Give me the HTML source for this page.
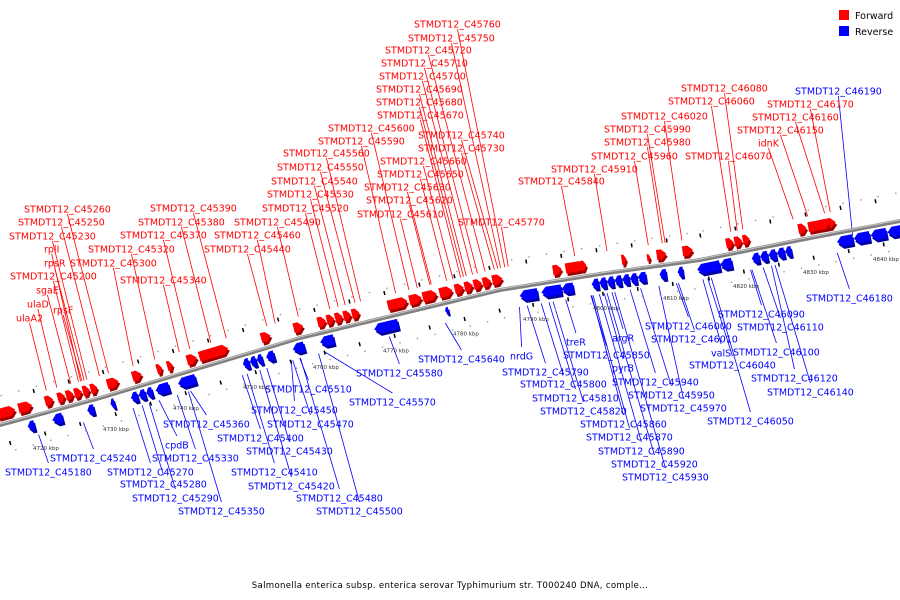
<!DOCTYPE html>
<html><head><meta charset="utf-8"><style>
html,body{margin:0;padding:0;background:#fff;width:900px;height:600px;overflow:hidden}
svg{display:block;font-family:"DejaVu Sans","Liberation Sans",sans-serif}
</style></head><body>
<svg id="chart" width="900" height="600" viewBox="0 0 900 600">
<g id="leaders"></g>
<g id="ticks"></g>
<path id="backbone" fill="none" stroke="#808080" stroke-width="4"/>
<path id="backbone2" fill="none" stroke="#c8c8c8" stroke-width="1"/>
<g id="genes"></g>
<g id="labels"></g>
<g>
<rect x="839" y="10" width="10" height="10" fill="#ff0000"/>
<text x="855" y="19" font-size="9.5" fill="#000">Forward</text>
<rect x="839" y="26" width="10" height="10" fill="#0000ff"/>
<text x="855" y="35" font-size="9.5" fill="#000">Reverse</text>
</g>
<text x="450" y="588" text-anchor="middle" font-size="8.6" letter-spacing="0.3" fill="#000">Salmonella enterica subsp. enterica serovar Typhimurium str. T000240 DNA, comple...</text>
</svg>
<script>
// gene data (kbp)
const fwdStart=[4714.3,4717.3,4721.1,4722.9,4724.1,4725.3,4726.5,4727.6,4730.0,4733.6,4737.1,4738.6,4741.4,4743.1,4752.0,4756.6,4760.0,4761.3,4762.5,4763.7,4764.9,4770.0,4773.1,4775.0,4777.4,4779.6,4781.0,4782.3,4783.6,4784.9,4793.5,4795.3,4797.5,4803.3,4806.9,4808.3,4812.0,4818.3,4819.5,4820.7,4828.6,4830.0,4832.0];
const fwdEnd  =[4716.9,4719.3,4722.3,4724.0,4725.2,4726.4,4727.5,4728.6,4731.7,4735.0,4737.9,4739.4,4742.9,4747.4,4753.4,4758.0,4761.2,4762.4,4763.6,4764.8,4766.0,4772.9,4774.9,4777.1,4779.3,4780.9,4782.2,4783.5,4784.8,4786.4,4794.8,4798.1,4798.3,4804.0,4807.4,4809.7,4813.5,4819.4,4820.6,4821.7,4829.8,4834.0,4833.0];
const revStart=[4717.9,4721.4,4726.4,4729.7,4732.6,4733.7,4734.8,4736.1,4739.3,4748.6,4749.6,4750.6,4751.9,4755.7,4759.7,4767.4,4777.6,4788.3,4791.4,4794.3,4798.6,4799.7,4800.8,4801.9,4803.0,4804.1,4805.2,4808.3,4810.9,4813.6,4816.9,4821.4,4822.6,4823.8,4825.0,4826.2,4833.6,4836.0,4838.4,4840.8];
const revEnd  =[4718.9,4722.9,4727.4,4730.3,4733.6,4734.7,4735.7,4738.1,4741.9,4749.5,4750.5,4751.4,4753.1,4757.4,4761.7,4770.9,4778.1,4790.9,4794.3,4796.0,4799.6,4800.7,4801.8,4802.9,4804.0,4805.1,4806.4,4809.3,4811.7,4816.9,4818.6,4822.5,4823.7,4824.9,4826.1,4827.1,4835.9,4838.3,4840.7,4843.5];
const tickKbp=[4720,4730,4740,4750,4760,4770,4780,4790,4800,4810,4820,4830,4840];
const tickLabels=["4720 kbp","4730 kbp","4740 kbp","4750 kbp","4760 kbp","4770 kbp","4780 kbp","4790 kbp","4800 kbp","4810 kbp","4820 kbp","4830 kbp","4840 kbp"];
// labels: name, strand, target gene kbp
const labNames=["STMDT12_C45260","STMDT12_C45250","STMDT12_C45230","rplI","rpsR","STMDT12_C45200","sgaE","ulaD","rpsF","ulaA2","STMDT12_C45320","STMDT12_C45300","STMDT12_C45340","STMDT12_C45390","STMDT12_C45380","STMDT12_C45370","STMDT12_C45460","STMDT12_C45440","STMDT12_C45490","STMDT12_C45520","STMDT12_C45530","STMDT12_C45540","STMDT12_C45550","STMDT12_C45560","STMDT12_C45590","STMDT12_C45600","STMDT12_C45670","STMDT12_C45680","STMDT12_C45690","STMDT12_C45700","STMDT12_C45710","STMDT12_C45720","STMDT12_C45750","STMDT12_C45760","STMDT12_C45740","STMDT12_C45730","STMDT12_C45660","STMDT12_C45650","STMDT12_C45630","STMDT12_C45620","STMDT12_C45610","STMDT12_C45770","STMDT12_C45840","STMDT12_C45910","STMDT12_C45960","STMDT12_C45980","STMDT12_C45990","STMDT12_C46020","STMDT12_C46060","STMDT12_C46080","STMDT12_C46070","idnK","STMDT12_C46150","STMDT12_C46160","STMDT12_C46170","STMDT12_C46190",
"STMDT12_C45180","STMDT12_C45240","cpdB","STMDT12_C45270","STMDT12_C45280","STMDT12_C45290","STMDT12_C45350","STMDT12_C45330","STMDT12_C45360","STMDT12_C45400","STMDT12_C45410","STMDT12_C45420","STMDT12_C45430","STMDT12_C45450","STMDT12_C45470","STMDT12_C45480","STMDT12_C45500","STMDT12_C45510","STMDT12_C45570","STMDT12_C45580","STMDT12_C45640","nrdG","treR","argR","STMDT12_C45790","STMDT12_C45850","STMDT12_C45800","STMDT12_C45810","STMDT12_C45820","STMDT12_C45860","STMDT12_C45870","STMDT12_C45890","STMDT12_C45920","STMDT12_C45930","pyrB","STMDT12_C45940","STMDT12_C45950","STMDT12_C45970","STMDT12_C46000","STMDT12_C46010","valS","STMDT12_C46040","STMDT12_C46050","STMDT12_C46090","STMDT12_C46110","STMDT12_C46100","STMDT12_C46120","STMDT12_C46140","STMDT12_C46180"];
const labStrand=[1,1,1,1,1,1,1,1,1,1,1,1,1,1,1,1,1,1,1,1,1,1,1,1,1,1,1,1,1,1,1,1,1,1,1,1,1,1,1,1,1,1,1,1,1,1,1,1,1,1,1,1,1,1,1,-1,
-1,-1,-1,-1,-1,-1,-1,-1,-1,-1,-1,-1,-1,-1,-1,-1,-1,-1,-1,-1,-1,-1,-1,-1,-1,-1,-1,-1,-1,-1,-1,-1,-1,-1,-1,-1,-1,-1,-1,-1,-1,-1,-1,-1,-1,-1,-1,-1,-1,-1];
const labKbp=[4729.8,4728.5,4726.7,4725.8,4726.3,4725.5,4724.4,4722.4,4726.0,4720.9,4736.4,4733.3,4739.9,4746.6,4744.4,4741.4,4753.6,4752.4,4756.9,4761.4,4762.6,4763.6,4765.0,4765.8,4770.8,4772.7,4780.1,4780.5,4780.9,4781.8,4782.5,4783.6,4785.8,4786.4,4785.4,4784.9,4779.0,4778.1,4775.9,4775.7,4773.9,4786.9,4796.4,4801.0,4806.9,4808.9,4809.3,4811.7,4818.7,4820.4,4819.6,4827.6,4829.7,4832.1,4832.9,4836.1,
4719.8,4726.2,4737.0,4733.3,4734.6,4735.6,4741.2,4739.6,4741.5,4748.9,4749.6,4751.4,4752.4,4755.9,4756.1,4757.2,4759.8,4757.1,4760.7,4769.9,4777.9,4788.5,4795.1,4801.7,4789.6,4798.7,4791.6,4792.7,4793.3,4798.8,4799.0,4799.9,4801.0,4802.1,4800.6,4804.3,4805.8,4808.4,4810.9,4811.2,4814.7,4815.4,4815.9,4821.5,4823.3,4821.7,4824.5,4825.0,4833.9];
// label anchor layout (left x, center y) - presentation only
const labLayout=[[24,209],[18,222],[9,236],[44,249],[44,263],[10,276],[36,290],[27,304],[53,310],[16,318],[88,249],[70,263],[120,280],[150,208],[138,222],[120,235],[214,235],[204,249],[234,222],[262,208],[267,194],[271,181],[277,167],[283,153],[318,141],[328,128],[377,115],[376,102],[376,89],[379,76],[381,63],[385,50],[408,38],[414,24],[418,135],[418,148],[380,161],[377,174],[364,187],[366,200],[357,214],[458,222],[518,181],[551,169],[591,156],[604,142],[604,129],[621,116],[668,101],[681,88],[685,156],[758,143],[737,130],[752,117],[767,104],[795,91],
[5,472],[50,458],[165,445],[107,472],[120,484],[132,498],[178,511],[152,458],[163,424],[217,438],[231,472],[248,486],[246,451],[251,410],[267,424],[296,498],[316,511],[265,389],[349,402],[356,373],[418,359],[510,356],[566,342],[612,338],[502,372],[563,355],[520,384],[532,398],[540,411],[580,424],[586,437],[598,451],[611,464],[622,477],[612,368],[612,382],[628,395],[640,408],[645,326],[651,339],[711,353],[689,365],[707,421],[718,314],[737,327],[733,352],[751,378],[767,392],[806,298]];

const NS='http://www.w3.org/2000/svg';
const curveX=[0,100,200,300,400,500,600,700,800,900];
const curveY=[425,398,368,338,314,290,274,260,240,221];
function kx(k){return 40+(k-4720)*7;}
function cy(x){
  if(x<=curveX[0])return curveY[0]+(x-curveX[0])*(curveY[1]-curveY[0])/100;
  for(let i=0;i<curveX.length-1;i++){
    if(x<=curveX[i+1]){const t=(x-curveX[i])/(curveX[i+1]-curveX[i]);return curveY[i]+t*(curveY[i+1]-curveY[i]);}
  }
  const n=curveX.length;return curveY[n-1]+(x-curveX[n-1])*(curveY[n-1]-curveY[n-2])/100;
}
function ang(x){return Math.atan2(cy(x+3)-cy(x-3),6);}
function mk(tag,attrs,parent){const e=document.createElementNS(NS,tag);for(const k in attrs)e.setAttribute(k,attrs[k]);parent.appendChild(e);return e;}

let d='';for(let x=-5;x<=905;x+=5){d+=(x===-5?'M':'L')+x+' '+cy(x).toFixed(1)+' ';}
document.getElementById('backbone').setAttribute('d',d);
let d2='';for(let x=-5;x<=905;x+=5){d2+=(x===-5?'M':'L')+x+' '+(cy(x)-1).toFixed(1)+' ';}
document.getElementById('backbone2').setAttribute('d',d2);

const genesG=document.getElementById('genes');
function drawGene(s,e,strand,i){
  const x1=kx(s),x2=kx(e),xc=(x1+x2)/2,len=x2-x1;
  const a=ang(xc)*180/Math.PI;
  const g=mk('g',{transform:`translate(${xc},${cy(xc)}) rotate(${a})`},genesG);
  
  
  const h=len<4?7:10, head=Math.min(5,len*0.5);
  const top=strand>0?-3-h-3:4, bot=top+h;
  const L=-len/2,R=len/2;
  let pts;
  if(strand>0)pts=[[L,top],[R-head,top],[R,(top+bot)/2],[R-head,bot],[L,bot]];
  else pts=[[R,top],[L+head,top],[L,(top+bot)/2],[L+head,bot],[R,bot]];
  const col=strand>0?'#ff0000':'#0000ff', dark=strand>0?'#a00000':'#0000a0';
  mk('polygon',{points:pts.map(p=>(p[0]+1)+','+(p[1]+3)).join(' '),fill:dark},g);
  mk('polygon',{points:pts.map(p=>p.join(',')).join(' '),fill:col},g);
}
fwdStart.forEach((s,i)=>drawGene(s,fwdEnd[i],1,i));
revStart.forEach((s,i)=>drawGene(s,revEnd[i],-1,i));

const tg=document.getElementById('ticks');
for(let k=4715;k<=4845;k+=5){
  const x=kx(k),y=cy(x);
  const a=ang(x);const nx=Math.sin(a),ny=-Math.cos(a);
  const t1=mk('line',{x1:x+nx*22,y1:y+ny*22,x2:x+nx*26,y2:y+ny*26,stroke:'#000','stroke-width':1.5},tg);
  
  
  const t2=mk('line',{x1:x-nx*18,y1:y-ny*18,x2:x-nx*22,y2:y-ny*22,stroke:'#000','stroke-width':1.5},tg);
  
  
}
for(let k=4713;k<=4846;k+=2.5){
  const x=kx(k),y=cy(x),a=ang(x),nx=Math.sin(a),ny=-Math.cos(a);
  [[28],[-28]].forEach(o=>{const c=mk('rect',{x:x+nx*o[0]-0.7,y:y+ny*o[0]-0.7,width:1.4,height:1.4,fill:'#999'},tg);
  
  });
}
tickKbp.forEach((k,i)=>{
  const x=kx(k);
  const t=mk('text',{x:x-7,y:cy(x)+36,'font-size':5.5,fill:'#333'},tg);
  
  
  t.textContent=tickLabels[i];
});

const lg=document.getElementById('leaders'),tl=document.getElementById('labels');
labNames.forEach((n,i)=>{
  const st=labStrand[i],lx=labLayout[i][0],ly=labLayout[i][1];
  const t=mk('text',{x:lx,y:ly+3.5,'font-size':9.5,fill:st>0?'#ff0000':'#0000ff'},tl);
  
  
  t.textContent=n;
  let w=n.length*6.2;
  try{w=t.getComputedTextLength()||w;}catch(e){}
  const x=kx(labKbp[i]);
  const above=ly<cy(x);
  const sx=lx+w/2, sy=above?ly+5:ly-9;
  const ey=above?(st>0?cy(x)-22:cy(x)+6):cy(x)+20;
  const ln=mk('line',{x1:sx,y1:sy,x2:x,y2:ey,stroke:st>0?'#ff0000':'#0000ff','stroke-width':0.8},lg);
  
  
});
</script>
</body></html>
